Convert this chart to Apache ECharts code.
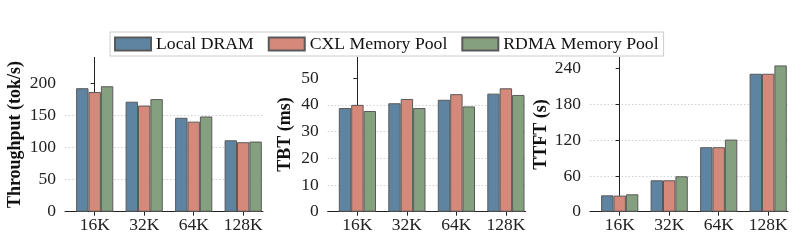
<!DOCTYPE html>
<html>
<head>
<meta charset="utf-8">
<script src="https://cdn.jsdelivr.net/npm/echarts@6/dist/echarts.min.js"></script>
<style>html,body{margin:0;padding:0;background:#fff}#c{width:796px;height:240px}</style>
</head>
<body>
<div id="c"></div>
<script>
const categories = ['16K', '32K', '64K', '128K'];
const seriesNames = ['Local DRAM', 'CXL Memory Pool', 'RDMA Memory Pool'];
const throughputLocal = [192, 171, 146, 111];
const throughputCXL = [186, 165, 140, 108];
const throughputRDMA = [195, 175, 148, 109];
const tbtLocal = [38.8, 40.6, 41.9, 44.2];
const tbtCXL = [40.0, 42.2, 44.0, 46.2];
const tbtRDMA = [37.7, 38.8, 39.4, 43.7];
const ttftLocal = [27.5, 52.7, 108.2, 231.4];
const ttftCXL = [27.0, 52.7, 108.2, 231.4];
const ttftRDMA = [29.2, 59.4, 121.0, 245.4];
const throughputTicks = [0, 50, 100, 150, 200];
const tbtTicks = [0, 10, 20, 30, 40, 50];
const ttftTicks = [0, 60, 120, 180, 240];

const colors = ['#5f84a2', '#d4897a', '#84a07f'];
const FONT = '"Liberation Serif", "Times New Roman", serif';
const catIdx = categories.map((_, i) => i);

const panels = [
  {left: 65, name: 'Throughput (tok/s)', max: 240, ticks: throughputTicks, gap: 41, data: [throughputLocal, throughputCXL, throughputRDMA]},
  {left: 327.7, name: 'TBT (ms)', max: 57.8, ticks: tbtTicks, gap: 33, data: [tbtLocal, tbtCXL, tbtRDMA]},
  {left: 590, name: 'TTFT (s)', max: 259, ticks: ttftTicks, gap: 40, data: [ttftLocal, ttftCXL, ttftRDMA]}
];

const grid = panels.map(p => ({left: p.left, top: 57.3, width: 198, height: 154.4}));
const xAxis = panels.map((p, k) => ({
  type: 'value', gridIndex: k, min: -0.6, max: 3.4,
  axisLine: {show: true, lineStyle: {color: '#222', width: 1}},
  axisTick: {show: true, length: 4, customValues: catIdx, lineStyle: {color: '#222'}},
  axisLabel: {customValues: catIdx, formatter: v => categories[Math.round(v)], fontFamily: FONT, fontSize: 17.5, color: '#222', margin: 5},
  splitLine: {show: false}
}));
const yAxis = panels.map((p, k) => ({
  type: 'value', gridIndex: k, min: 0, max: p.max,
  name: p.name, nameLocation: 'middle', nameGap: p.gap,
  nameTextStyle: {fontFamily: FONT, fontSize: 18, fontWeight: 'bold', color: '#111'},
  axisLine: {show: true, lineStyle: {color: '#222', width: 1}},
  axisTick: {show: true, length: 4, customValues: p.ticks, lineStyle: {color: '#222'}},
  axisLabel: {customValues: p.ticks, fontFamily: FONT, fontSize: 17.5, color: '#222', margin: 9},
  splitLine: {show: true, showMinLine: false, showMaxLine: false, lineStyle: {color: '#d0d0d0', type: [1.5, 2], width: 1}}
}));

const series = [];
panels.forEach((p, k) => {
  p.data.forEach((vals, s) => {
    series.push({
      type: 'bar', name: seriesNames[s], xAxisIndex: k, yAxisIndex: k,
      barWidth: 12.4, barGap: '0%',
      itemStyle: {color: colors[s], borderColor: '#5a5a5a', borderWidth: 1},
      data: vals.map((v, i) => [i, v])
    });
  });
});

const chart = echarts.init(document.getElementById('c'), null, {renderer: 'canvas'});
chart.setOption({
  animation: false,
  backgroundColor: '#fff',
  color: colors,
  legend: {
    data: seriesNames.map(n => ({name: n, icon: 'rect'})), left: 110, top: 32,
    itemWidth: 36, itemHeight: 13, itemGap: 14,
    padding: [3, 5, 3, 4],
    borderColor: '#cccccc', borderWidth: 1, backgroundColor: '#fff',
    textStyle: {fontFamily: FONT, fontSize: 17.7, color: '#111'}
  },
  grid, xAxis, yAxis, series
});
</script>
</body>
</html>
